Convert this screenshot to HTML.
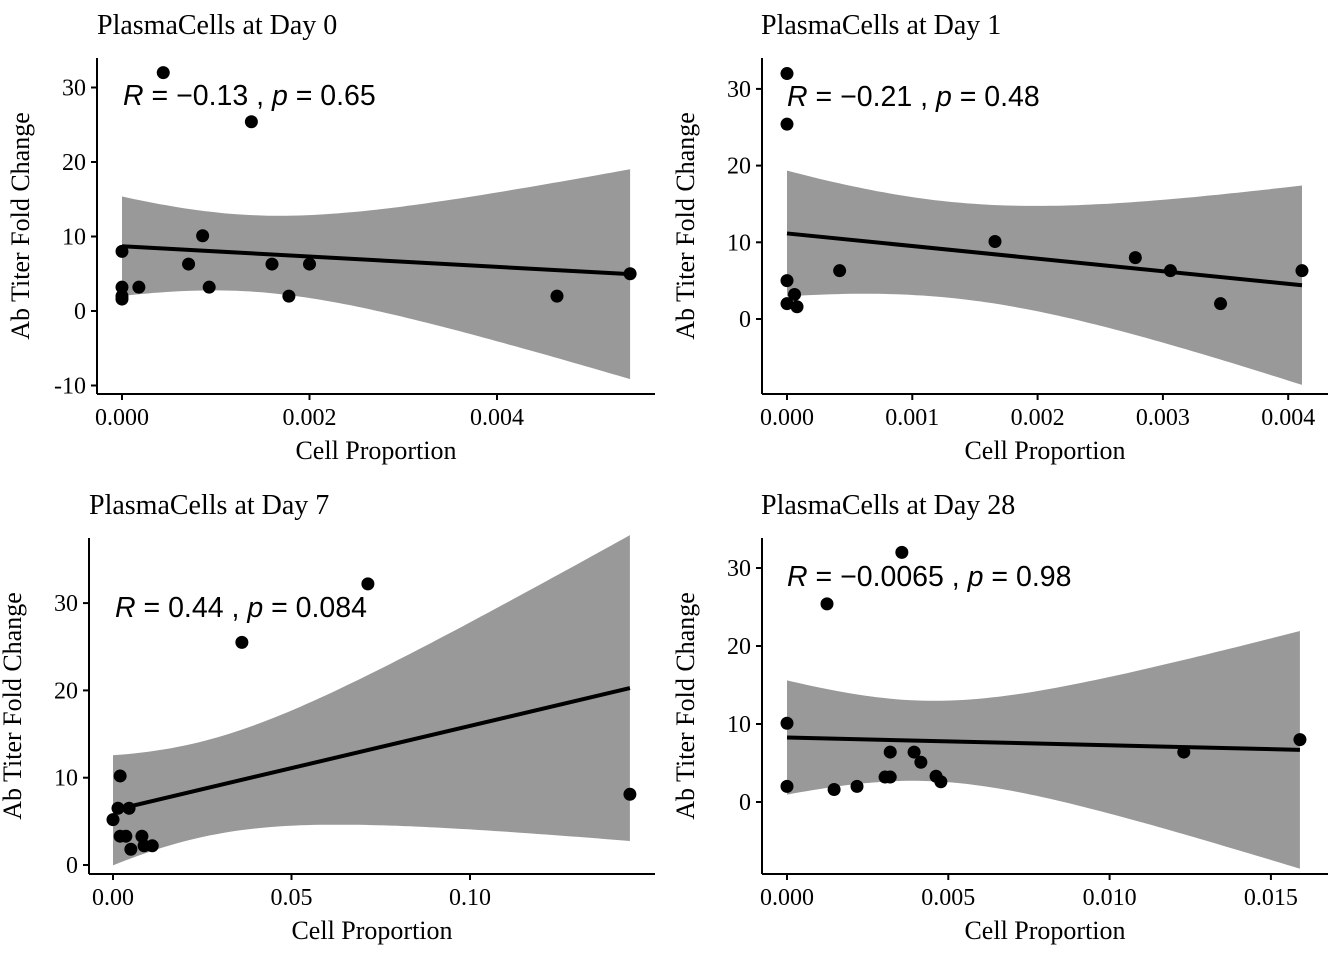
<!DOCTYPE html>
<html><head><meta charset="utf-8"><style>
body{margin:0;background:#fff;}
svg{display:block;}
.tick{font-family:"Liberation Serif",serif;font-size:24px;fill:#000;}
.ttl{font-family:"Liberation Serif",serif;font-size:28px;fill:#000;}
.ax{font-family:"Liberation Serif",serif;font-size:26px;fill:#000;}
.ann{font-family:"Liberation Sans",sans-serif;font-size:28.5px;fill:#000;}
</style></head><body>
<svg id="chart" width="1344" height="960"></svg>
<script>
// Data
const p1x=[0.00044,0.00138,0,0.00086,0.00071,0.0016,0.002,0,0.00018,0.00093,0,0,0.00178,0.00464,0.00542];
const p1y=[32,25.4,8,10.1,6.3,6.3,6.3,3.2,3.2,3.2,2,1.6,2,2,5];
const p2x=[0,0,0,0,0.00006,0.00008,0.00042,0.00166,0.00278,0.00306,0.00346,0.00411];
const p2y=[32,25.4,5,2,3.2,1.6,6.3,10.1,8,6.3,2,6.3];
const p3x=[0.0714,0.0361,0.1448,0.002,0,0.0014,0.0045,0.002,0.0036,0.0081,0.005,0.0087,0.011];
const p3y=[32.2,25.5,8.1,10.2,5.2,6.5,6.5,3.3,3.3,3.3,1.8,2.2,2.2];
const p4x=[0.00356,0.00124,0,0,0.00146,0.00217,0.00304,0.0032,0.0032,0.00394,0.00415,0.00462,0.00477,0.0123,0.0159];
const p4y=[32,25.4,10.1,2,1.6,2,3.2,3.2,6.4,6.4,5.1,3.3,2.6,6.4,8];
const titles=["PlasmaCells at Day 0","PlasmaCells at Day 1","PlasmaCells at Day 7","PlasmaCells at Day 28"];
const annR=["−0.13","−0.21","0.44","−0.0065"];
const annP=["0.65","0.48","0.084","0.98"];
const p1xt=[0,0.002,0.004], p1xl=["0.000","0.002","0.004"], p1yt=[-10,0,10,20,30];
const p2xt=[0,0.001,0.002,0.003,0.004], p2xl=["0.000","0.001","0.002","0.003","0.004"], p2yt=[0,10,20,30];
const p3xt=[0,0.05,0.1], p3xl=["0.00","0.05","0.10"], p3yt=[0,10,20,30];
const p4xt=[0,0.005,0.01,0.015], p4xl=["0.000","0.005","0.010","0.015"], p4yt=[0,10,20,30];

const panels=[
 {xs:p1x,ys:p1y,xt:p1xt,xl:p1xl,yt:p1yt,ax:97,ay:394,top:58,right:655,x0:122,xk:187.5/0.002,y0:311,yk:74.5/10,tx:97,ty:34,anx:123,any:105},
 {xs:p2x,ys:p2y,xt:p2xt,xl:p2xl,yt:p2yt,ax:762,ay:394,top:58,right:1328,x0:787,xk:125.3/0.001,y0:319,yk:76.7/10,tx:761,ty:34,anx:787,any:106},
 {xs:p3x,ys:p3y,xt:p3xt,xl:p3xl,yt:p3yt,ax:89,ay:874,top:538,right:655,x0:113,xk:178.5/0.05,y0:865,yk:87.3/10,tx:89,ty:514,anx:115,any:617},
 {xs:p4x,ys:p4y,xt:p4xt,xl:p4xl,yt:p4yt,ax:762,ay:874,top:538,right:1328,x0:787,xk:161.3/0.005,y0:802,yk:78/10,tx:761,ty:514,anx:787,any:586}
];
const tq={9:2.262,10:2.228,11:2.201,12:2.179,13:2.160,14:2.145,15:2.131,16:2.12};
const svg=document.getElementById('chart');
const NS="http://www.w3.org/2000/svg";
function mk(tag,attrs,parent){const e=document.createElementNS(NS,tag);for(const k in attrs)e.setAttribute(k,attrs[k]);(parent||svg).appendChild(e);return e;}

panels.forEach((P,i)=>{
 const g=mk('g',{});
 
 
 const X=v=>P.x0+v*P.xk, Y=v=>P.y0-v*P.yk;
 const n=P.xs.length, mx=P.xs.reduce((a,b)=>a+b)/n, my=P.ys.reduce((a,b)=>a+b)/n;
 let sxx=0,sxy=0;for(let k=0;k<n;k++){sxx+=(P.xs[k]-mx)**2;sxy+=(P.xs[k]-mx)*(P.ys[k]-my);}
 const b=sxy/sxx,a=my-b*mx;let sse=0;for(let k=0;k<n;k++)sse+=(P.ys[k]-a-b*P.xs[k])**2;
 const s=Math.sqrt(sse/(n-2)),t=tq[n-2]||2.2;
 const xmin=Math.min(...P.xs),xmax=Math.max(...P.xs);
 let up=[],lo=[];
 for(let j=0;j<=80;j++){const x=xmin+(xmax-xmin)*j/80;const f=a+b*x;const se=s*Math.sqrt(1/n+(x-mx)**2/sxx);
  up.push(X(x).toFixed(1)+','+Y(f+t*se).toFixed(1));lo.unshift(X(x).toFixed(1)+','+Y(f-t*se).toFixed(1));}
 const band=mk('polygon',{points:up.concat(lo).join(' '),fill:'#999999'},g);
 
 
 const ln=mk('line',{x1:X(xmin),y1:Y(a+b*xmin),x2:X(xmax),y2:Y(a+b*xmax),stroke:'#000','stroke-width':4},g);
 
 
 for(let k=0;k<n;k++){const c=mk('circle',{cx:X(P.xs[k]),cy:Y(P.ys[k]),r:6.5,fill:'#000'},g);
  
  }
 const xa=mk('line',{x1:P.ax,y1:P.ay,x2:P.right,y2:P.ay,stroke:'#000','stroke-width':2},g);
 
 
 const ya=mk('line',{x1:P.ax,y1:P.top,x2:P.ax,y2:P.ay,stroke:'#000','stroke-width':2},g);
 
 
 P.xt.forEach((v,j)=>{mk('line',{x1:X(v),y1:P.ay,x2:X(v),y2:P.ay+6,stroke:'#000','stroke-width':2},g);
  const tl=mk('text',{x:X(v),y:P.ay+31,'text-anchor':'middle',class:'tick'},g);tl.textContent=P.xl[j];
  
  });
 P.yt.forEach(v=>{mk('line',{x1:P.ax-6,y1:Y(v),x2:P.ax,y2:Y(v),stroke:'#000','stroke-width':2},g);
  const tl=mk('text',{x:P.ax-11,y:Y(v)+8,'text-anchor':'end',class:'tick'},g);tl.textContent=String(v);
  
  });
 const tt=mk('text',{x:P.tx,y:P.ty,class:'ttl'},g);tt.textContent=titles[i];
 
 
 const cx=(P.ax+P.right)/2;
 const xt=mk('text',{x:cx,y:P.ay+65,'text-anchor':'middle',class:'ax'},g);xt.textContent='Cell Proportion';
 
 
 const cy=(P.top+P.ay)/2, yx=P.ax-68;
 const yt=mk('text',{x:yx,y:cy,'text-anchor':'middle',class:'ax',transform:`rotate(-90 ${yx} ${cy})`},g);yt.textContent='Ab Titer Fold Change';
 
 
 const an=mk('text',{x:P.anx,y:P.any,class:'ann'},g);
 an.innerHTML=`<tspan font-style="italic">R</tspan> = ${annR[i]} , <tspan font-style="italic">p</tspan> = ${annP[i]}`;
 
 
});
</script>
</body></html>
